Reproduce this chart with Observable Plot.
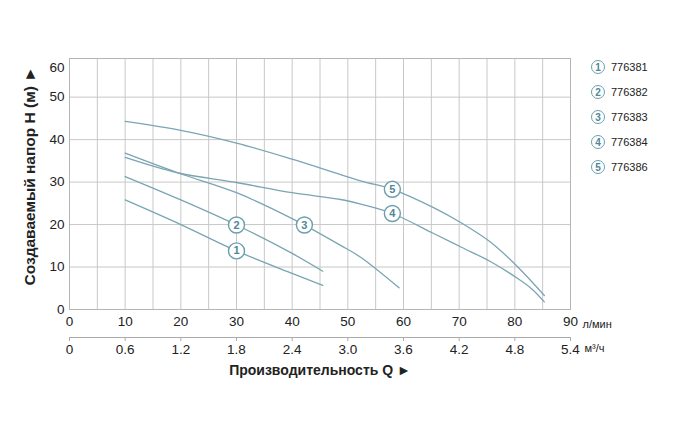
<!DOCTYPE html>
<html>
<head>
<meta charset="utf-8">
<script src="https://cdn.jsdelivr.net/npm/d3@7"></script>
<script src="https://cdn.jsdelivr.net/npm/@observablehq/plot@0.6"></script>
<style>
  html, body { margin: 0; padding: 0; background: #fff; }
  #wrap { position: relative; width: 700px; height: 428px; font-family: "Liberation Sans", Arial, sans-serif; }
  .leg { position: absolute; left: 591px; height: 16px; display: flex; align-items: center; }
  .leg .c { width: 12px; height: 12px; border: 1.5px solid #6c9fae; border-radius: 50%; color: #4f8798; font-size: 10px; font-weight: bold; display: flex; align-items: center; justify-content: center; background: #fff; }
  .leg .t { margin-left: 6px; font-size: 11px; color: #222; }
</style>
</head>
<body>
<div id="wrap"></div>
<script>
// Pump curves: Q (l/min) vs H (m)
const models = ["776381", "776382", "776383", "776384", "776386"];
const curve1Q = [10, 20, 30, 40, 45.5];
const curve1H = [25.8, 20.0, 13.8, 8.5, 5.7];
const curve2Q = [10, 20, 30, 40, 45.5];
const curve2H = [31.3, 25.8, 19.9, 13.2, 9.0];
const curve3Q = [10, 19.4, 30, 40, 48.7, 52.3, 59.2];
const curve3H = [36.8, 32.2, 27.5, 21.4, 15.1, 12.3, 5.1];
const curve4Q = [10, 19.4, 30, 40, 48.7, 52.3, 58, 65.4, 70.5, 75.6, 80.4, 83, 85.3];
const curve4H = [35.8, 32.2, 29.9, 27.5, 25.9, 24.8, 22.6, 17.9, 14.6, 11.3, 7.4, 4.9, 1.8];
const curve5Q = [10, 20, 30, 40, 52.3, 58, 65.4, 70.5, 75.6, 80.4, 85.3];
const curve5H = [44.3, 42.2, 39.2, 35.4, 30.3, 28.3, 24.0, 20.3, 15.9, 10.2, 3.3];
const labelNums = ["1", "2", "3", "4", "5"];
const labelQ = [30, 30, 42.2, 58, 58];
const labelH = [13.8, 19.9, 19.9, 22.6, 28.3];
const xTicksLmin = [0, 10, 20, 30, 40, 50, 60, 70, 80, 90];
const xTicksM3h = ["0", "0.6", "1.2", "1.8", "2.4", "3.0", "3.6", "4.2", "4.8", "5.4"];
const xGrid = d3.range(0, 91, 5);
const yTicks = [0, 10, 20, 30, 40, 50];
const yTopLabel = "60";
const yTitle = "Создаваемый напор H (м) ►";
const xTitle = "Производительность Q ►";
const unit1 = "л/мин";
const unit2 = "м³/ч";

const curves = [curve1Q, curve2Q, curve3Q, curve4Q, curve5Q].map((qs, i) => {
  const hs = [curve1H, curve2H, curve3H, curve4H, curve5H][i];
  return qs.map((q, j) => ({model: models[i], q, h: hs[j]}));
}).flat();
const labels = labelNums.map((n, i) => ({n, q: labelQ[i], h: labelH[i]}));

const lineColor = "#7aa5b3";
const gridColor = "#c8c8c8";
const textColor = "#222";

const chart = Plot.plot({
  width: 700,
  height: 400,
  marginLeft: 69,
  marginRight: 130,
  marginTop: 58,
  marginBottom: 91,
  style: {fontFamily: "'Liberation Sans', Arial, sans-serif", fontSize: "13px", color: textColor, background: "#fff"},
  x: {domain: [0, 90], axis: null},
  y: {domain: [0, 59.1], axis: null},
  marks: [
    Plot.gridX(xGrid, {stroke: gridColor, strokeOpacity: 1}),
    Plot.gridY(yTicks, {stroke: gridColor, strokeOpacity: 1}),
    Plot.frame({stroke: "#b5b5b5"}),
    Plot.axisY(yTicks, {anchor: "left", tickSize: 0, tickPadding: 5, label: null, fill: textColor, fontSize: 13.5}),
    Plot.text([yTopLabel], {frameAnchor: "top-left", text: d => d, textAnchor: "end", dx: -5, dy: 4, fill: textColor, fontSize: 13.5}),
    Plot.axisX(xTicksLmin, {anchor: "bottom", tickSize: 0, tickPadding: 7, label: null, fill: textColor, fontSize: 13.5}),
    Plot.ruleY([0], {stroke: "#aaa", dy: 28}),
    Plot.axisX(xTicksLmin, {anchor: "bottom", tickSize: 4, tickPadding: 3, dy: 28, stroke: "#aaa", label: null, fill: textColor, fontSize: 13.5,
      tickFormat: (d, i) => xTicksM3h[i]}),
    Plot.text([unit1], {frameAnchor: "bottom-right", text: d => d, textAnchor: "start", dx: 12, dy: 18, fill: textColor, fontSize: 11}),
    Plot.text([unit2], {frameAnchor: "bottom-right", text: d => d, textAnchor: "start", dx: 14, dy: 42, fill: textColor, fontSize: 11}),
    Plot.text([xTitle], {frameAnchor: "bottom", text: d => d, textAnchor: "middle", lineAnchor: "middle", dy: 61, fill: textColor, fontSize: 14, fontWeight: "bold"}),
    Plot.text([yTitle], {frameAnchor: "left", text: d => d, textAnchor: "middle", rotate: -90, dx: -39, dy: -8, fill: textColor, fontSize: 15.5, fontWeight: "bold"}),
    Plot.line(curves, {x: "q", y: "h", z: "model", stroke: lineColor, strokeWidth: 1.3, curve: "catmull-rom"}),
    Plot.dot(labels, {x: "q", y: "h", r: 8, fill: "#fff", stroke: "#6c9fae", strokeWidth: 1.4}),
    Plot.text(labels, {x: "q", y: "h", text: "n", fill: "#4f8798", fontSize: 11, fontWeight: "bold"})
  ]
});

const wrap = document.getElementById("wrap");
wrap.appendChild(chart);
models.forEach((m, i) => {
  const row = document.createElement("div");
  row.className = "leg";
  row.style.top = (59 + i * 25) + "px";
  row.innerHTML = `<div class="c">${labelNums[i]}</div><div class="t">${m}</div>`;
  wrap.appendChild(row);
});
</script>
</body>
</html>
